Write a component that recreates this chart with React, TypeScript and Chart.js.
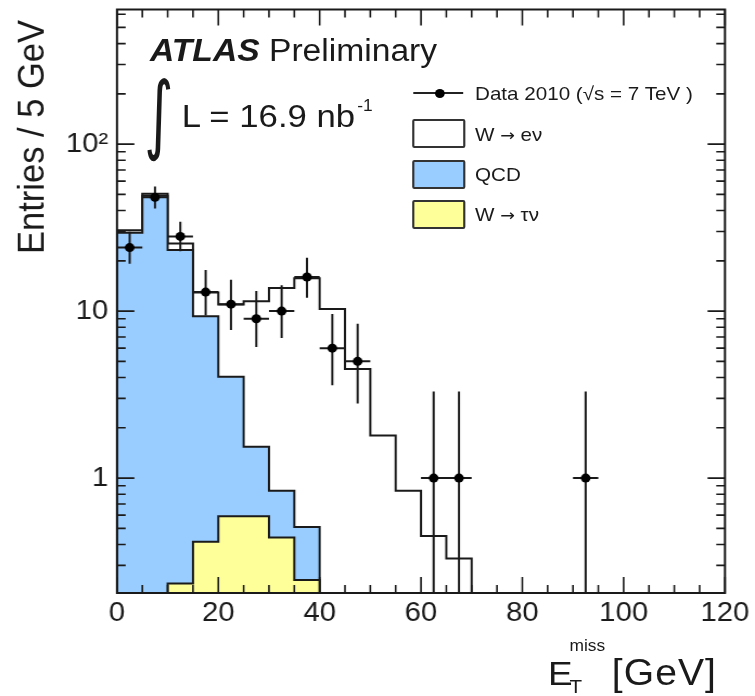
import React, { useEffect, useRef } from 'react';
import { Chart, registerables } from 'chart.js';

Chart.register(...registerables);

// ---------------- data ----------------
const binLow = [0, 5, 10, 15, 20, 25, 30, 35, 40, 45, 50, 55, 60, 65];
const BIN_WIDTH = 5;
const wenuValues = [1.0, 1.5, 2.2, 3.6, 6.9, 9.9, 12.9, 15.2, 10.3, 4.5, 1.8, 0.84, 0.45, 0.33];
const qcdValues = [29.5, 49, 23, 8.9, 3.45, 0.95, 0.40, 0.265, 0, 0, 0, 0, 0, 0];
const wtaunuValues = [0, 0, 0.234, 0.415, 0.59, 0.59, 0.44, 0.245, 0, 0, 0, 0, 0, 0];

const dataCenters = [2.5, 7.5, 12.5, 17.5, 22.5, 27.5, 32.5, 37.5, 42.5, 47.5, 62.5, 67.5, 92.5];
const dataCounts = [24, 48, 28, 13, 11, 9, 10, 16, 6, 5, 1, 1, 1];
const dataErrLow = [19.2, 41.2, 22.8, 9.4, 7.7, 6.1, 6.9, 12.0, 3.6, 2.8, 0.17, 0.17, 0.17];
const dataErrHigh = [29.9, 55.8, 34.3, 17.6, 15.4, 13.2, 14.3, 20.9, 9.6, 8.4, 3.3, 3.3, 3.3];

const xTickLabels = [0, 20, 40, 60, 80, 100, 120];
const yTickLabels = [1, 10, 100];

const X_MIN = 0;
const X_MAX = 120;
const Y_MIN = 0.205;
const Y_MAX = 640;

// ---------------- layout (internal, before horizontal stretch) ----------------
const W = 696;
const H = 696;
const SX = 755 / 696;
const PLOT_LEFT = 107.85;
const PLOT_RIGHT = 668.3;
const PLOT_TOP = 9.5;
const PLOT_BOTTOM = 593;

const FONT = '"Liberation Sans", Arial, Helvetica, sans-serif';
const INK = '#1a1a1a';
const BLUE = 'rgb(153, 204, 255)';
const YELLOW = 'rgb(255, 255, 153)';

function histPoints(values: number[]) {
  const pts: { x: number; y: number }[] = [{ x: binLow[0], y: Y_MIN }];
  values.forEach((v, i) => {
    const y = v > Y_MIN ? v : Y_MIN;
    pts.push({ x: binLow[i], y }, { x: binLow[i] + BIN_WIDTH, y });
  });
  pts.push({ x: binLow[values.length - 1] + BIN_WIDTH, y: Y_MIN });
  return pts;
}

const tauTop = wtaunuValues.map((v) => v);
const qcdTop = qcdValues.map((v, i) => (v > 0 ? v + wtaunuValues[i] : 0));
const totalTop = wenuValues.map((v, i) => v + qcdValues[i] + wtaunuValues[i]);

function errorBarPoints() {
  const pts: { x: number; y: number | null }[] = [];
  dataCenters.forEach((c, i) => {
    pts.push({ x: c, y: dataErrLow[i] }, { x: c, y: dataErrHigh[i] }, { x: c, y: null });
    pts.push({ x: c - BIN_WIDTH / 2, y: dataCounts[i] }, { x: c + BIN_WIDTH / 2, y: dataCounts[i] }, { x: c, y: null });
  });
  return pts;
}

const frameTicksPlugin = {
  id: 'frameTicks',
  afterDatasetsDraw(chart: any) {
    const { ctx, chartArea } = chart;
    const xs = chart.scales.x;
    const ys = chart.scales.y;
    ctx.save();
    ctx.strokeStyle = INK;
    ctx.lineWidth = 2;
    ctx.strokeRect(chartArea.left, chartArea.top, chartArea.right - chartArea.left, chartArea.bottom - chartArea.top);
    ctx.lineWidth = 1.6;
    ctx.beginPath();
    for (let v = X_MIN; v <= X_MAX; v += 5) {
      const px = xs.getPixelForValue(v);
      const len = v % 20 === 0 ? 16 : 8;
      ctx.moveTo(px, chartArea.bottom);
      ctx.lineTo(px, chartArea.bottom - len);
      ctx.moveTo(px, chartArea.top);
      ctx.lineTo(px, chartArea.top + len);
    }
    for (let d = 0.1; d < 1000; d *= 10) {
      for (let m = 1; m <= 9; m++) {
        const v = m * d;
        if (v < Y_MIN || v > Y_MAX) continue;
        const py = ys.getPixelForValue(v);
        const len = m === 1 ? 16 : 8;
        ctx.moveTo(chartArea.left, py);
        ctx.lineTo(chartArea.left + len, py);
        ctx.moveTo(chartArea.right, py);
        ctx.lineTo(chartArea.right - len, py);
      }
    }
    ctx.stroke();
    ctx.restore();
  },
};

function ChartCanvas() {
  const ref = useRef<HTMLCanvasElement | null>(null);
  useEffect(() => {
    if (!ref.current) return;
    const histStyle = {
      borderColor: INK,
      borderWidth: 2,
      pointRadius: 0,
      tension: 0,
      fill: 'start',
    };
    const chart = new Chart(ref.current, {
      type: 'line',
      data: {
        datasets: [
          { label: 'W → eν', data: histPoints(totalTop), backgroundColor: '#ffffff', order: 5, ...histStyle } as any,
          { label: 'QCD', data: histPoints(qcdTop.slice(0, 8)), backgroundColor: BLUE, order: 4, ...histStyle } as any,
          { label: 'W → τν', data: histPoints(tauTop.slice(0, 8)), backgroundColor: YELLOW, order: 3, ...histStyle } as any,
          {
            label: 'errors',
            data: errorBarPoints(),
            borderColor: INK,
            borderWidth: 2,
            pointRadius: 0,
            spanGaps: false,
            fill: false,
            order: 2,
          } as any,
          {
            label: 'Data 2010',
            data: dataCenters.map((c, i) => ({ x: c, y: dataCounts[i] })),
            showLine: false,
            pointRadius: 4.5,
            pointBackgroundColor: '#000',
            pointBorderWidth: 0,
            order: 1,
          } as any,
        ],
      },
      options: {
        animation: false,
        responsive: false,
        maintainAspectRatio: false,
        events: [],
        layout: { padding: { top: PLOT_TOP, right: W - PLOT_RIGHT, left: 0, bottom: 0 } },
        plugins: { legend: { display: false }, tooltip: { enabled: false } },
        scales: {
          x: {
            type: 'linear',
            min: X_MIN,
            max: X_MAX,
            grid: { display: false, drawTicks: false },
            border: { display: false },
            ticks: {
              stepSize: 20,
              autoSkip: false,
              maxRotation: 0,
              padding: 4,
              color: INK,
              font: { family: FONT, size: 27 },
            },
            afterBuildTicks: (s: any) => {
              s.ticks = xTickLabels.map((v) => ({ value: v }));
            },
            afterFit: (s: any) => {
              s.height = H - PLOT_BOTTOM;
              s.paddingLeft = 0;
              s.paddingRight = 0;
            },
          },
          y: {
            type: 'logarithmic',
            min: Y_MIN,
            max: Y_MAX,
            grid: { display: false, drawTicks: false },
            border: { display: false },
            ticks: {
              autoSkip: false,
              padding: 8,
              color: INK,
              font: { family: FONT, size: 27 },
              callback: (v: any) => (Number(v) === 100 ? '10²' : String(v)),
            },
            afterBuildTicks: (s: any) => {
              s.ticks = yTickLabels.map((v) => ({ value: v }));
            },
            afterFit: (s: any) => {
              s.width = PLOT_LEFT;
              s.paddingTop = 0;
              s.paddingBottom = 0;
            },
          },
        },
      } as any,
      plugins: [frameTicksPlugin],
    });
    return () => chart.destroy();
  }, []);
  return <canvas ref={ref} width={W} height={H} style={{ display: 'block', width: W, height: H }} />;
}

function Txt(props: { x: number; baseline: number; size: number; children: any; style?: any; align?: 'left' | 'right' }) {
  const { x, baseline, size, children, style, align } = props;
  const top = baseline - 0.8465 * size;
  const pos: any = align === 'right' ? { right: W - x } : { left: x };
  return (
    <div
      style={{
        position: 'absolute',
        top,
        ...pos,
        fontFamily: FONT,
        fontSize: size,
        lineHeight: 1,
        color: INK,
        whiteSpace: 'nowrap',
        ...style,
      }}
    >
      {children}
    </div>
  );
}

const legendBox = (top: number, fill: string) => (
  <div
    style={{
      position: 'absolute',
      left: 379.5,
      top,
      width: 49,
      height: 29,
      boxSizing: 'border-box',
      border: '2px solid #333',
      borderRadius: 2,
      background: fill,
    }}
  />
);

const Arrow = () => <span style={{ fontFamily: '"DejaVu Sans", sans-serif', fontSize: '0.85em' }}>→</span>;

export default function App() {
  return (
    <div
      style={{
        position: 'absolute',
        left: 0,
        top: 0,
        width: W,
        height: H,
        transform: `scaleX(${SX})`,
        transformOrigin: '0 0',
        background: '#fff',
      }}
    >
      <ChartCanvas />

      {/* ATLAS label */}
      <Txt x={138.3} baseline={61.7} size={31}>
        <span style={{ fontWeight: 'bold', fontStyle: 'italic' }}>ATLAS</span>
        <span> Preliminary</span>
      </Txt>

      {/* Integrated luminosity */}
      <Txt
        x={133}
        baseline={143}
        size={86}
        style={{
          fontFamily: '"DejaVu Sans", sans-serif',
          transform: 'scaleX(0.6)',
          transformOrigin: '0 0',
        }}
      >
        ∫
      </Txt>
      <Txt x={167.5} baseline={126.7} size={32}>
        L = 16.9 nb
        <span style={{ fontSize: 16, position: 'relative', top: -16, marginLeft: 2 }}>-1</span>
      </Txt>

      {/* Legend */}
      <div style={{ position: 'absolute', left: 380.7, top: 92.3, width: 46, height: 2, background: '#222' }} />
      <div style={{ position: 'absolute', left: 400.5, top: 88.8, width: 9, height: 9, borderRadius: '50%', background: '#000' }} />
      <Txt x={437.9} baseline={100} size={19}>
        Data 2010 (√s = 7 TeV )
      </Txt>
      {legendBox(119.3, '#ffffff')}
      <Txt x={437.9} baseline={141.5} size={19}>
        W <Arrow /> eν
      </Txt>
      {legendBox(160, BLUE)}
      <Txt x={437.9} baseline={181.5} size={19}>
        QCD
      </Txt>
      {legendBox(200, YELLOW)}
      <Txt x={437.9} baseline={221.5} size={19}>
        W <Arrow /> τν
      </Txt>

      {/* Y axis title */}
      <div
        style={{
          position: 'absolute',
          left: 11,
          top: 320,
          width: 300,
          textAlign: 'right',
          transform: 'rotate(-90deg)',
          transformOrigin: '0 0',
          fontFamily: FONT,
          fontSize: 34.5,
          lineHeight: 1,
          color: INK,
          whiteSpace: 'nowrap',
        }}
      >
        Entries / 5 GeV
      </div>

      {/* X axis title */}
      <Txt x={505.2} baseline={685} size={34}>
        E
      </Txt>
      <Txt x={525} baseline={652} size={16}>
        miss
      </Txt>
      <Txt x={525} baseline={693} size={19}>
        T
      </Txt>
      <Txt x={661} baseline={685} size={36} align="right" style={{ letterSpacing: 1 }}>
        [GeV]
      </Txt>
    </div>
  );
}
